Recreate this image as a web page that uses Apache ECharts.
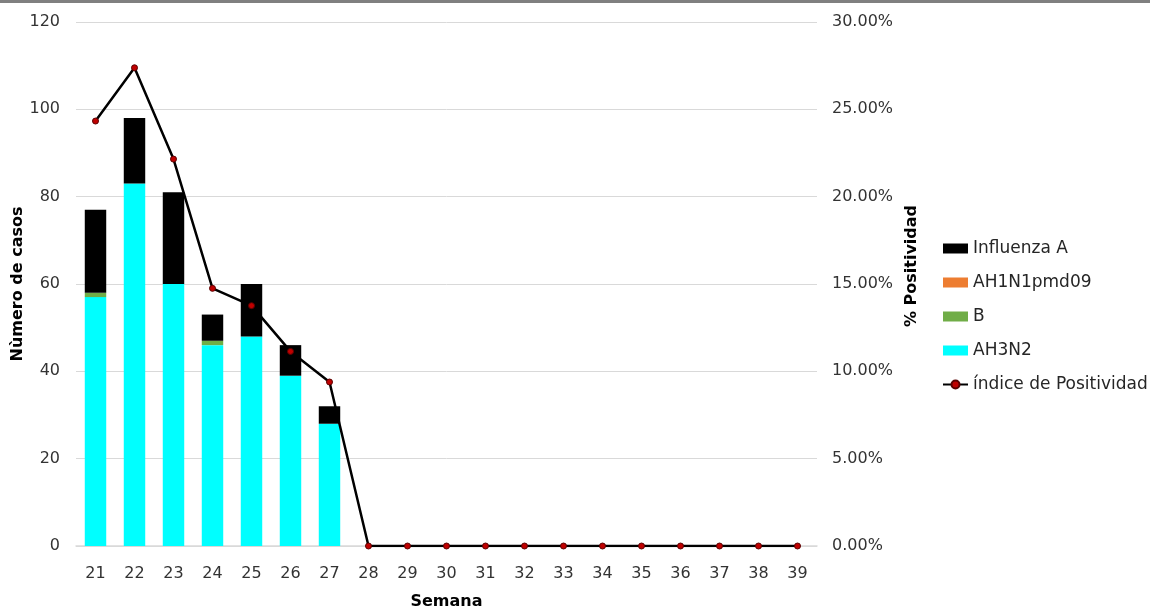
<!DOCTYPE html>
<html>
<head>
<meta charset="utf-8">
<script src="https://cdn.jsdelivr.net/npm/echarts@6/dist/echarts.min.js"></script>
<style>
html,body{margin:0;padding:0;background:#fff;}
#chart{width:1150px;height:608px;}
</style>
</head>
<body>
<div id="chart"></div>
<script>
const semanas = ['21','22','23','24','25','26','27','28','29','30','31','32','33','34','35','36','37','38','39'];
const influenzaA = [19,15,21,6,12,7,4,0,0,0,0,0,0,0,0,0,0,0,0];
const ah1n1pmd09 = [0,0,0,0,0,0,0,0,0,0,0,0,0,0,0,0,0,0,0];
const b = [1,0,0,1,0,0,0,0,0,0,0,0,0,0,0,0,0,0,0];
const ah3n2 = [57,83,60,46,48,39,28,0,0,0,0,0,0,0,0,0,0,0,0];
const positividad = [24.33,27.38,22.15,14.75,13.76,11.14,9.39,0,0,0,0,0,0,0,0,0,0,0,0];

const FONT = 'DejaVu Sans';
const chart = echarts.init(document.getElementById('chart'));
const barW = '55%';
chart.setOption({
  animation: false,
  textStyle: {fontFamily: FONT},
  graphic: [{type:'rect', left:0, top:0, shape:{width:1150, height:3}, style:{fill:'#808080'}}],
  grid: {left:76, right:333, top:22, bottom:62, containLabel:false, outerBoundsMode:'none'},
  legend: {
    orient:'vertical', left:937, top:235, padding:5,
    itemWidth:25, itemHeight:10, itemGap:17,
    textStyle:{fontSize:17, color:'#262626', fontFamily:FONT},
    data:[
      {name:'Influenza A', icon:'rect'},
      {name:'AH1N1pmd09', icon:'rect'},
      {name:'B', icon:'rect'},
      {name:'AH3N2', icon:'rect'},
      {name:'índice de Positividad'}
    ]
  },
  xAxis: {
    type:'category', data:semanas,
    name:'Semana', nameLocation:'middle', nameGap:48,
    nameTextStyle:{fontSize:16, fontWeight:'bold', color:'#000'},
    axisLine:{lineStyle:{color:'#d9d9d9', width:1.5}},
    axisTick:{show:false},
    axisLabel:{fontSize:16, color:'#333', margin:20}
  },
  yAxis: [{
    type:'value', min:0, max:120, interval:20,
    name:'Nùmero de casos', nameLocation:'middle', nameGap:50, nameMoveOverlap:false,
    nameTextStyle:{fontSize:16, fontWeight:'bold', color:'#000'},
    axisLabel:{fontSize:16, color:'#333', margin:16},
    splitLine:{lineStyle:{color:'#d9d9d9'}},
    axisLine:{show:false}, axisTick:{show:false}
  },{
    type:'value', min:0, max:30, interval:5,
    name:'% Positividad', nameLocation:'middle', nameGap:84, nameRotate:90,
    nameTextStyle:{fontSize:16, fontWeight:'bold', color:'#000', padding:[0,0,0,36]},
    axisLabel:{fontSize:16, color:'#333', margin:15, formatter:v=>v.toFixed(2)+'%'},
    splitLine:{show:false}, axisLine:{show:false}, axisTick:{show:false}
  }],
  series: [
    {name:'AH3N2', type:'bar', stack:'s', data:ah3n2, barWidth:barW, itemStyle:{color:'#00ffff'}},
    {name:'B', type:'bar', stack:'s', data:b, barWidth:barW, itemStyle:{color:'#70ad47'}},
    {name:'AH1N1pmd09', type:'bar', stack:'s', data:ah1n1pmd09, barWidth:barW, itemStyle:{color:'#ed7d31'}},
    {name:'Influenza A', type:'bar', stack:'s', data:influenzaA, barWidth:barW, itemStyle:{color:'#000000'}},
    {name:'índice de Positividad', type:'line', yAxisIndex:1, data:positividad, z:10,
     symbol:'circle', symbolSize:6,
     lineStyle:{color:'#000', width:2.5},
     itemStyle:{color:'#c00000', borderColor:'#5a0000', borderWidth:1}}
  ]
});
</script>
</body>
</html>
